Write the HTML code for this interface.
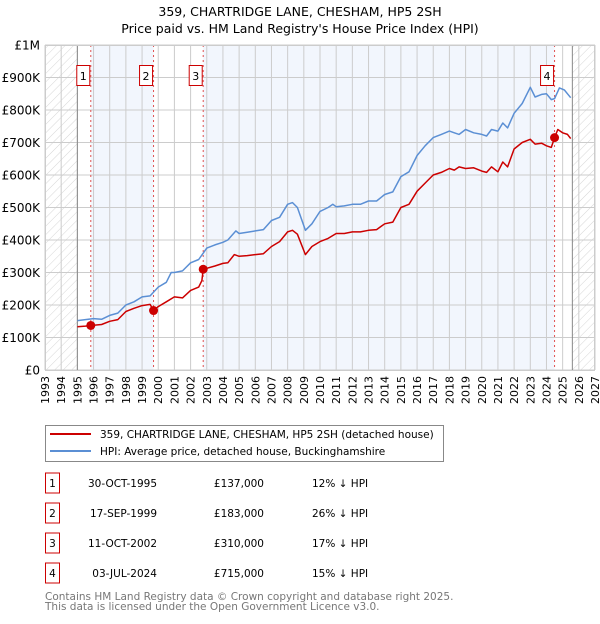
<!DOCTYPE html>
<html><head><meta charset="utf-8"><style>
body{margin:0;background:#fff;font-family:"DejaVu Sans","Liberation Sans",sans-serif;}
svg text{font-family:"DejaVu Sans","Liberation Sans",sans-serif;}
</style></head><body>
<svg id="c" width="600" height="620" viewBox="0 0 600 620" xmlns="http://www.w3.org/2000/svg">
<defs><pattern id="hatch" width="6" height="6" patternUnits="userSpaceOnUse" patternTransform="rotate(45)"><line x1="0" y1="0" x2="0" y2="6" stroke="#ccc" stroke-width="0.8"/></pattern></defs>
<text x="300" y="16" text-anchor="middle" font-size="12.5" fill="#000">359, CHARTRIDGE LANE, CHESHAM, HP5 2SH</text>
<text x="300" y="33" text-anchor="middle" font-size="12.5" fill="#000">Price paid vs. HM Land Registry's House Price Index (HPI)</text>
<g id="plot"></g>
<g>
<rect x="45.5" y="425.5" width="398" height="36" fill="#fff" stroke="#888"/>
<line x1="50" y1="434" x2="91" y2="434" stroke="#cc0000" stroke-width="2"/>
<text x="100" y="438" font-size="10.5">359, CHARTRIDGE LANE, CHESHAM, HP5 2SH (detached house)</text>
<line x1="50" y1="451" x2="91" y2="451" stroke="#5b8fd4" stroke-width="2"/>
<text x="100" y="455" font-size="10.5">HPI: Average price, detached house, Buckinghamshire</text>
</g>
<g id="table" font-size="10.5"></g>
<text x="45" y="600" font-size="10.5" fill="#777">Contains HM Land Registry data © Crown copyright and database right 2025.</text>
<text x="45" y="610" font-size="10.5" fill="#777">This data is licensed under the Open Government Licence v3.0.</text>
</svg>
<script>
const yearTicks=[1993,1994,1995,1996,1997,1998,1999,2000,2001,2002,2003,2004,2005,2006,2007,2008,2009,2010,2011,2012,2013,2014,2015,2016,2017,2018,2019,2020,2021,2022,2023,2024,2025,2026,2027];
const priceTicks=[0,100000,200000,300000,400000,500000,600000,700000,800000,900000,1000000];
const priceTickLabels=["£0","£100K","£200K","£300K","£400K","£500K","£600K","£700K","£800K","£900K","£1M"];
const hpiDates=[1995,1995.5,1996,1996.5,1997,1997.5,1998,1998.5,1999,1999.5,2000,2000.5,2000.8,2001,2001.5,2002,2002.5,2003,2003.5,2004,2004.3,2004.8,2005,2005.5,2006,2006.5,2007,2007.5,2008,2008.3,2008.6,2009.1,2009.5,2010,2010.5,2010.8,2011,2011.5,2012,2012.5,2013,2013.5,2014,2014.5,2015,2015.5,2016,2016.5,2017,2017.5,2018,2018.3,2018.6,2019,2019.5,2020,2020.3,2020.6,2021,2021.3,2021.6,2022,2022.5,2023,2023.3,2023.7,2024,2024.3,2024.5,2024.8,2025.1,2025.3,2025.5];
const hpiValues=[152,155,158,156,168,175,200,210,225,228,255,270,300,300,305,330,340,375,385,393,400,428,420,424,428,432,460,470,510,515,500,430,450,488,500,510,502,505,510,510,520,520,540,548,595,610,660,690,715,725,735,730,725,740,730,725,720,740,735,760,745,790,820,870,840,848,850,832,835,868,862,850,838];
const propDates=[1995,1995.5,1995.83,1996.5,1997,1997.5,1998,1998.5,1999,1999.5,1999.71,2000,2000.5,2001,2001.5,2002,2002.5,2002.7,2002.78,2003.5,2004,2004.3,2004.7,2005,2005.5,2006,2006.5,2007,2007.5,2008,2008.3,2008.6,2009.1,2009.5,2010,2010.5,2011,2011.5,2012,2012.5,2013,2013.5,2014,2014.5,2015,2015.5,2016,2016.5,2017,2017.5,2018,2018.3,2018.6,2019,2019.5,2020,2020.3,2020.6,2021,2021.3,2021.6,2022,2022.5,2023,2023.3,2023.7,2024,2024.3,2024.5,2024.7,2025,2025.3,2025.5];
const propValues=[133,135,137,140,150,155,180,190,198,202,183,195,210,225,222,245,255,275,310,320,328,330,355,350,352,355,358,380,395,425,430,418,355,380,395,405,420,420,425,425,430,432,450,455,500,510,550,575,600,608,620,615,625,620,622,612,608,625,610,640,625,680,700,710,695,698,690,685,715,740,730,725,712];
const saleDates=[1995.83,1999.71,2002.78,2024.5];
const saleValues=[137000,183000,310000,715000];
const saleLabels=["1","2","3","4"];
const saleDateText=["30-OCT-1995","17-SEP-1999","11-OCT-2002","03-JUL-2024"];
const salePriceText=["£137,000","£183,000","£310,000","£715,000"];
const saleHpiText=["12% ↓ HPI","26% ↓ HPI","17% ↓ HPI","15% ↓ HPI"];

const NS="http://www.w3.org/2000/svg";
const X0=45,X1=595,Y0=370,Y1=45,dataStart=1995,dataEnd=2025.6;
const xs=y=>X0+(y-1993)/(2027-1993)*(X1-X0);
const ys=v=>Y0-v/1000000*(Y0-Y1);
function mk(tag,attrs,parent){const e=document.createElementNS(NS,tag);for(const k in attrs)e.setAttribute(k,attrs[k]);parent.appendChild(e);return e;}
const plot=document.getElementById('plot');
// backgrounds
let r=mk('rect',{x:X0,y:Y1,width:xs(dataStart)-X0,height:Y0-Y1,fill:'url(#hatch)'},plot);


r=mk('rect',{x:xs(dataEnd),y:Y1,width:X1-xs(dataEnd),height:Y0-Y1,fill:'url(#hatch)'},plot);


[[0,1],[2,3]].forEach(([a,b],i)=>{
 const e=mk('rect',{x:xs(saleDates[a]),y:Y1,width:xs(saleDates[b])-xs(saleDates[a]),height:Y0-Y1,fill:'#eef3fc',opacity:0.75},plot);
 
 
});
// grid
yearTicks.forEach(y=>{
 const l=mk('line',{x1:xs(y),x2:xs(y),y1:Y1,y2:Y0,stroke:'#ccc','stroke-width':1},plot);
 
 
 const t=mk('text',{x:0,y:0,'font-size':11,'text-anchor':'end',transform:`translate(${xs(y)+4},${Y0+6}) rotate(-90)`},plot);
 t.textContent=y;
 
 
});
priceTicks.forEach((v,i)=>{
 const l=mk('line',{x1:X0,x2:X1,y1:ys(v),y2:ys(v),stroke:'#ccc','stroke-width':1},plot);
 
 
 const t=mk('text',{x:X0-5,y:ys(v)+4.5,'font-size':12,'text-anchor':'end'},plot);
 t.textContent=priceTickLabels[i];
 
 
});
[dataStart,dataEnd].forEach(d=>{const l=mk('line',{x1:xs(d),x2:xs(d),y1:Y1,y2:Y0,stroke:'#888','stroke-width':1},plot);
 
 });
// sale vlines
saleDates.forEach((d,i)=>{
 const l=mk('line',{x1:xs(d),x2:xs(d),y1:Y1,y2:Y0,stroke:'#e05050','stroke-width':1,'stroke-dasharray':'2,3'},plot);
 
 
});
function path(dates,vals,color,name){
 const d=dates.map((x,i)=>(i?'L':'M')+xs(x).toFixed(1)+','+ys(vals[i]*1000).toFixed(1)).join('');
 const p=mk('path',{d,fill:'none',stroke:color,'stroke-width':1.5,'stroke-linejoin':'round'},plot);
 
 
}
path(hpiDates,hpiValues,'#5b8fd4','hpi-line');
path(propDates,propValues,'#cc0000','property-price-line');
saleDates.forEach((d,i)=>{
 const c=mk('circle',{cx:xs(d),cy:ys(saleValues[i]),r:4.5,fill:'#cc0000'},plot);
 
 
 const g=mk('g',{},plot);
 
 
 mk('rect',{x:xs(d)-14,y:65.5,width:13,height:20,fill:'#fff',stroke:'#cc0000'},g);
 const t=mk('text',{x:xs(d)-7.5,y:80,'font-size':11,'text-anchor':'middle'},g);
 t.textContent=saleLabels[i];
});
mk('rect',{x:X0+0.5,y:Y1+0.5,width:X1-X0-1,height:Y0-Y1,fill:'none',stroke:'#ccc'},plot);
// table
const tb=document.getElementById('table');
saleLabels.forEach((s,i)=>{
 const y=483+i*30;
 const g=mk('g',{},tb);
 
 
 mk('rect',{x:45.5,y:y-10,width:14,height:20,fill:'#fff',stroke:'#cc0000'},g);
 let t=mk('text',{x:52.5,y:y+4,'text-anchor':'middle'},g);t.textContent=s;
 t=mk('text',{x:157,y:y+4,'text-anchor':'end'},g);t.textContent=saleDateText[i];
 t=mk('text',{x:264,y:y+4,'text-anchor':'end'},g);t.textContent=salePriceText[i];
 t=mk('text',{x:312,y:y+4},g);t.textContent=saleHpiText[i];
});
</script>
</body></html>
